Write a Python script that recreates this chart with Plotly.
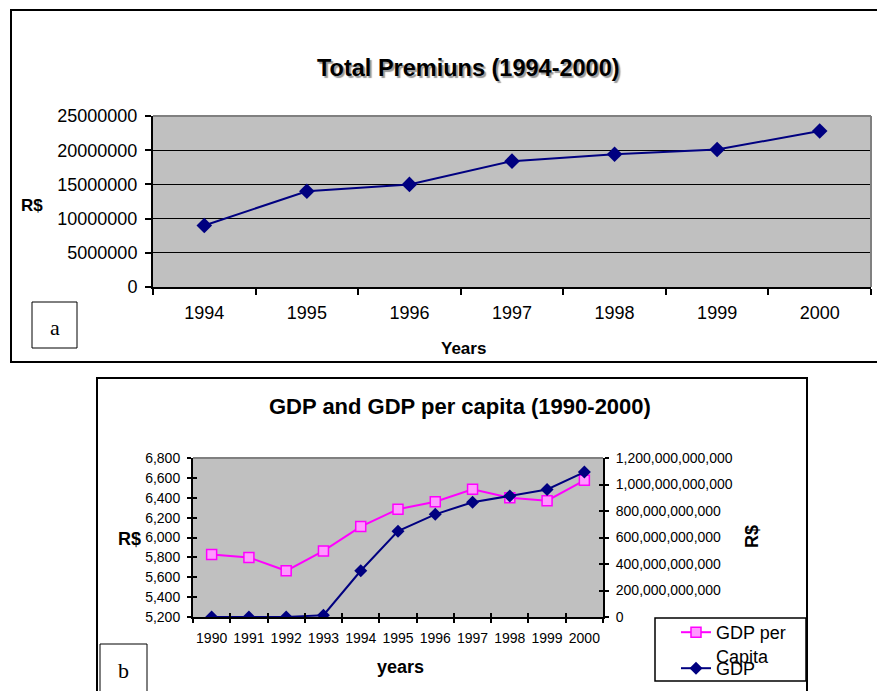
import plotly.graph_objects as go

W, H = 877, 691

# Total premiums (R$), 1994-2000
prem_years = ['1994', '1995', '1996', '1997', '1998', '1999', '2000']
premiums = [9.0e6, 14.0e6, 15.0e6, 18.4e6, 19.4e6, 20.1e6, 22.8e6]

# GDP (R$) and GDP per capita (R$), 1990-2000
gdp_years = ['1990', '1991', '1992', '1993', '1994', '1995',
             '1996', '1997', '1998', '1999', '2000']
gdp_per_capita = [5830, 5800, 5665, 5865, 6110, 6285, 6360, 6485, 6400, 6370, 6575]
gdp = [0.01e9, 0.06e9, 0.64e9, 14e9, 349e9, 648e9, 775e9, 866e9, 914e9, 962e9, 1094e9]

NAVY = '#000080'
MAGENTA = '#FF00FF'
SILVER = '#C0C0C0'
GREY = '#808080'
SANS = 'Liberation Sans, Arial, sans-serif'
SERIF = 'Liberation Serif, Times New Roman, serif'


def px(x):
    return x / W


def py(y):
    return 1 - y / H


fig = go.Figure()

fig.add_trace(go.Scatter(
    x=prem_years, y=premiums, xaxis='x', yaxis='y',
    mode='lines+markers', showlegend=False,
    line=dict(color=NAVY, width=2),
    marker=dict(symbol='diamond', size=12, color=NAVY),
))

fig.add_trace(go.Scatter(
    x=gdp_years, y=gdp_per_capita, xaxis='x2', yaxis='y2',
    mode='lines+markers', name='GDP per<br>Capita', legend='legend',
    line=dict(color=MAGENTA, width=2),
    marker=dict(symbol='square', size=10, color='#FF99FF',
                line=dict(color=MAGENTA, width=1.5)),
))

fig.add_trace(go.Scatter(
    x=gdp_years, y=gdp, xaxis='x2', yaxis='y3',
    mode='lines+markers', name='GDP', legend='legend2',
    line=dict(color=NAVY, width=2),
    marker=dict(symbol='diamond', size=10, color=NAVY),
))

# empty traces that carry the inner half of the crossing tick marks
fig.add_trace(go.Scatter(x=[], y=[], xaxis='x3', yaxis='y4', showlegend=False))
fig.add_trace(go.Scatter(x=[], y=[], xaxis='x3', yaxis='y5', showlegend=False))

n_b = len(gdp_years)
boundaries = [i - 0.5 for i in range(n_b + 1)]

tick_font_a = dict(family=SANS, size=18, color='black')
tick_font_b = dict(family=SANS, size=14, color='black')

fig.update_layout(
    width=W, height=H, autosize=False,
    margin=dict(l=0, r=0, t=0, b=0, autoexpand=False),
    paper_bgcolor='white', plot_bgcolor=SILVER,
    font=dict(family=SANS, color='black'),
    xaxis=dict(
        domain=[px(153), px(871)], anchor='y', type='category',
        range=[-0.5, len(prem_years) - 0.5], tickson='boundaries',
        ticks='outside', ticklen=6, tickwidth=1.5, tickcolor='black',
        showline=True, linecolor='black', linewidth=2, showgrid=False,
        tickfont=tick_font_a, ticklabelstandoff=8, tickangle=0,
        automargin=False,
    ),
    yaxis=dict(
        domain=[py(287), py(116)], anchor='x', range=[0, 25e6], dtick=5e6,
        tickformat='d', ticks='outside', ticklen=6, tickwidth=1.5,
        tickcolor='black', showline=True, linecolor='black', linewidth=2,
        showgrid=True, gridcolor='black', gridwidth=1, zeroline=False,
        tickfont=tick_font_a, ticklabelstandoff=4, automargin=False,
    ),
    xaxis2=dict(
        domain=[px(193), px(603)], anchor='y2', type='category',
        range=[-0.5, n_b - 0.5], tickson='boundaries',
        ticks='outside', ticklen=4, tickwidth=1.5, tickcolor='black',
        showline=True, linecolor='black', linewidth=2, showgrid=False,
        tickfont=tick_font_b, ticklabelstandoff=7, tickangle=0,
        automargin=False,
    ),
    yaxis2=dict(
        domain=[py(617), py(458)], anchor='x2', range=[5200, 6800], dtick=200,
        tickformat=',d', ticks='outside', ticklen=4, tickwidth=1.5,
        tickcolor='black', showline=True, linecolor='black', linewidth=2,
        showgrid=False, zeroline=False, tickfont=tick_font_b,
        ticklabelstandoff=4, automargin=False,
    ),
    yaxis3=dict(
        overlaying='y2', side='right', anchor='x2', range=[0, 1.2e12],
        dtick=2e11, tickformat=',d', ticks='outside', ticklen=4,
        tickwidth=1.5, tickcolor='black', showline=True, linecolor='black',
        linewidth=2, showgrid=False, zeroline=False, tickfont=tick_font_b,
        ticklabelstandoff=4, automargin=False,
    ),
    xaxis3=dict(
        overlaying='x2', anchor='y4', side='bottom', range=[-0.5, n_b - 0.5],
        tickmode='array', tickvals=boundaries, ticks='inside', ticklen=4,
        tickwidth=1.5, tickcolor='black', showticklabels=False,
        showgrid=False, zeroline=False, showline=False, automargin=False,
    ),
    yaxis4=dict(
        overlaying='y2', anchor='x3', side='left', range=[5200, 6800],
        dtick=200, ticks='inside', ticklen=4, tickwidth=1.5,
        tickcolor='black', showticklabels=False, showgrid=False,
        zeroline=False, showline=False, automargin=False,
    ),
    yaxis5=dict(
        overlaying='y2', anchor='x3', side='right', range=[0, 1.2e12],
        dtick=2e11, ticks='inside', ticklen=4, tickwidth=1.5,
        tickcolor='black', showticklabels=False, showgrid=False,
        zeroline=False, showline=False, automargin=False,
    ),
    legend=dict(
        x=px(676), y=py(614), xanchor='left', yanchor='top',
        bgcolor='rgba(0,0,0,0)', borderwidth=0, valign='top',
        font=dict(family=SANS, size=18, color='black'),
        tracegroupgap=0,
    ),
    legend2=dict(
        x=px(676), y=py(650), xanchor='left', yanchor='top',
        bgcolor='rgba(0,0,0,0)', borderwidth=0,
        font=dict(family=SANS, size=18, color='black'),
    ),
    hovermode=False,
)


def box(x0, y0, x1, y1, width, color='black', kind='rect', layer='above'):
    return dict(type=kind, xref='paper', yref='paper',
                x0=px(x0), x1=px(x1), y0=py(y0), y1=py(y1),
                line=dict(color=color, width=width), layer=layer)


fig.update_layout(shapes=[
    # panel frames
    box(11, 10, 890, 362, 2),
    box(97, 378, 807, 700, 2),
    # panel letter boxes
    box(32, 302, 77, 348, 1),
    box(100, 644, 147, 700, 1),
    # legend frame
    box(655, 618, 806, 681, 1.5),
    # grey plot-area edges
    box(153, 116, 871, 116, 2, GREY, 'line'),
    box(871, 116, 871, 287, 2, GREY, 'line'),
    box(193, 458, 603, 458, 2, GREY, 'line'),
])


def label(text, x, y, size, bold=True, family=SANS, angle=0, shadow=None):
    font = dict(family=family, size=size, color='black')
    if shadow:
        font['shadow'] = shadow
    return dict(
        text=f'<b>{text}</b>' if bold else text,
        x=px(x), y=py(y), xref='paper', yref='paper',
        xanchor='center', yanchor='middle', showarrow=False,
        font=font, textangle=angle,
    )


fig.update_layout(annotations=[
    label('Total Premiuns (1994-2000)', 468, 68, 23.5,
          shadow='2px 2px 1px #9a9a9a'),
    label('R$', 32, 205, 17),
    label('Years', 463, 348, 17),
    label('a', 55, 327, 22, bold=False, family=SERIF),
    label('GDP and GDP per capita (1990-2000)', 460, 406, 22),
    label('R$', 129, 539, 18),
    label('R$', 752, 537, 18, angle=-90),
    label('years', 400, 667, 18),
    label('b', 124, 670, 22, bold=False, family=SERIF),
])

fig.write_html('out.html')
